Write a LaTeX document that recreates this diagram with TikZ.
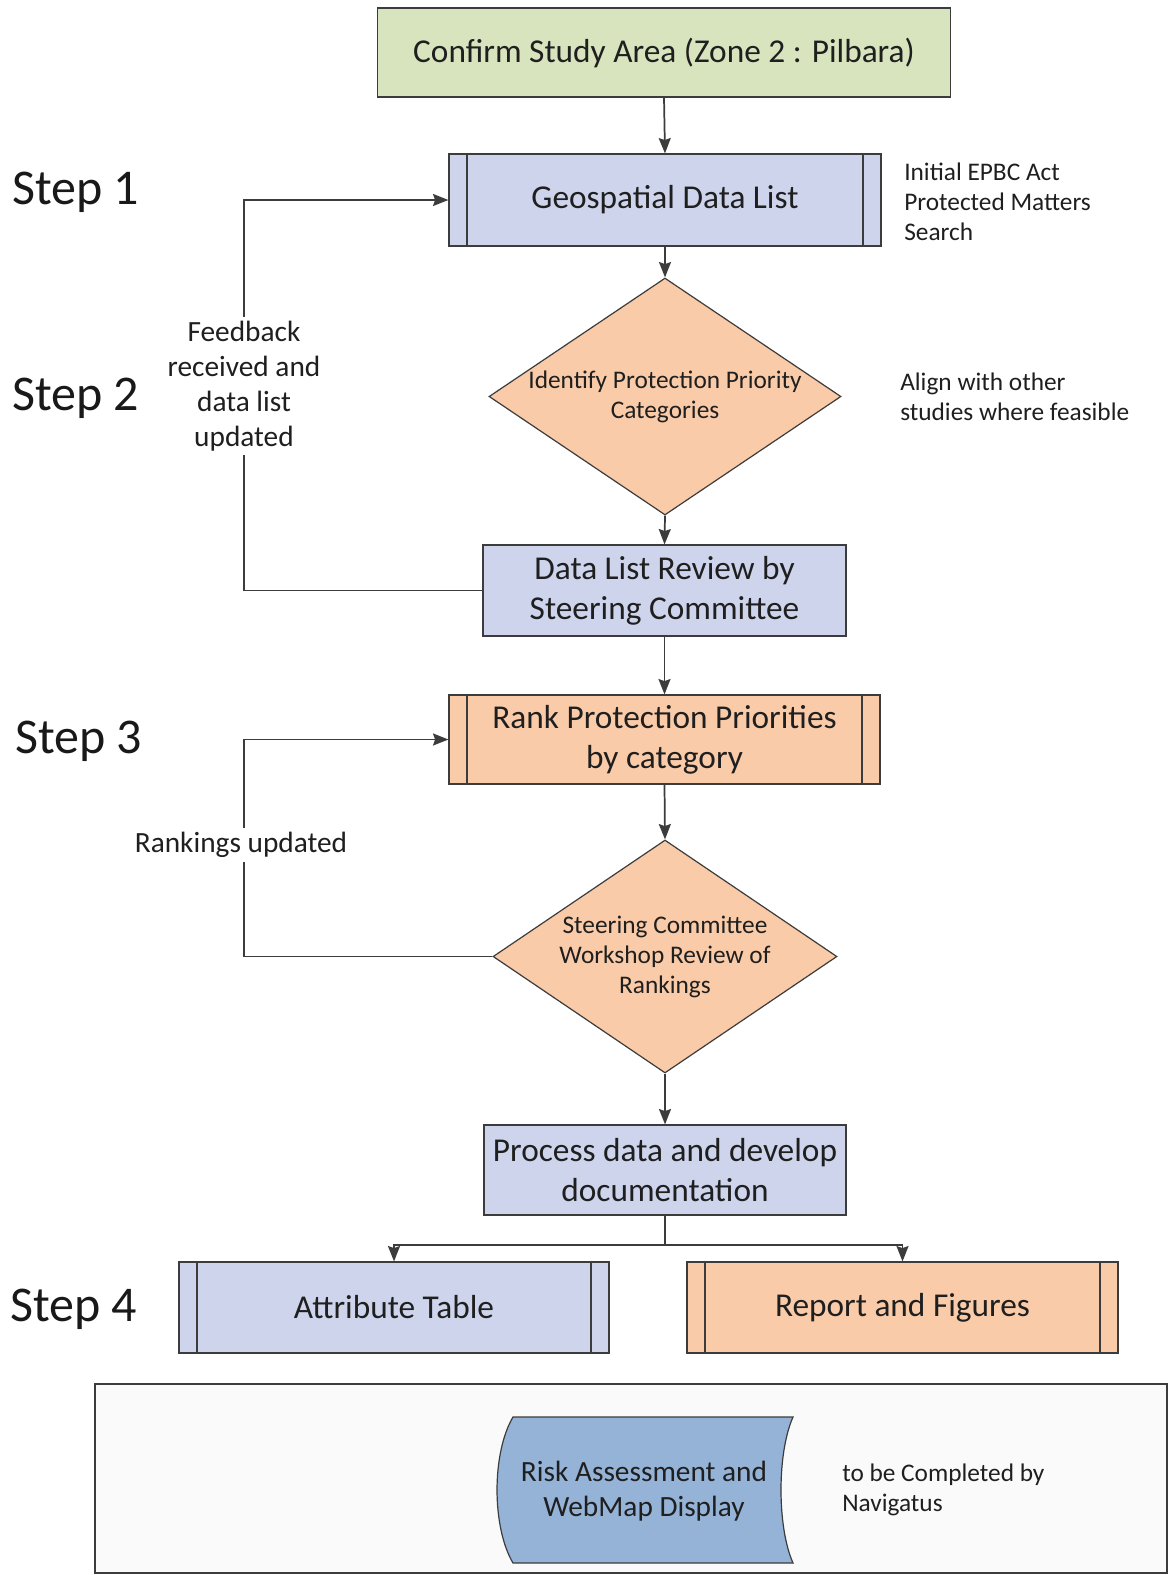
\documentclass[tikz,border=0pt]{standalone}
\usepackage{fontspec}
\setmainfont{Carlito}
\usetikzlibrary{shapes.geometric,arrows.meta}
\definecolor{lineC}{HTML}{3C3C3C}
\definecolor{greenF}{HTML}{D7E4BD}
\definecolor{blueF}{HTML}{CDD4EC}
\definecolor{orangeF}{HTML}{FACBA8}
\definecolor{riskF}{HTML}{95B3D7}
\definecolor{zoneF}{HTML}{FAFAFA}
\begin{document}
\begin{tikzpicture}[x=0.75pt,y=-0.75pt,
  box/.style={draw=lineC,line width=0.9pt,rectangle,align=center,inner sep=0pt,font=\fontsize{25}{30}\selectfont,text=black!88},
  subproc/.style={box,path picture={\draw[lineC,line width=0.9pt]
      ([xshift=13.5pt]path picture bounding box.north west) -- ([xshift=13.5pt]path picture bounding box.south west)
      ([xshift=-13.5pt]path picture bounding box.north east) -- ([xshift=-13.5pt]path picture bounding box.south east);}},
  dec/.style={draw=lineC,line width=0.9pt,diamond,fill=orangeF,inner sep=0pt},
  dtext/.style={align=center,font=\fontsize{19}{22.5}\selectfont,text=black!88,inner sep=0pt},
  steplbl/.style={anchor=west,font=\fontsize{37.5}{40}\selectfont,inner sep=0pt,text=black!90},
  note/.style={anchor=west,align=left,font=\fontsize{19}{22.5}\selectfont,inner sep=0pt,text=black!88},
  fb/.style={align=center,font=\fontsize{22}{26.25}\selectfont,fill=white,inner sep=3pt,text=black!88},
  conn/.style={draw=lineC,line width=1.3pt,-{Stealth[length=11.5pt,width=9pt,inset=1.5pt]}},
]
\useasboundingbox[fill=white] (0,0) rectangle (1172,1575);

% main flow
\node[box,fill=greenF,minimum width=429.75pt,minimum height=66.75pt] (confirm) at (664,52.5) {Confirm Study Area (Zone 2 : Pilbara)};
\node[subproc,fill=blueF,minimum width=324pt,minimum height=69pt] (geo) at (665,200) {Geospatial Data List};
\node[dec,minimum width=264pt,minimum height=177.75pt] (ident) at (665,396.5) {};
\node[dtext] (identtxt) at (ident.center) {Identify Protection Priority\\Categories};
\node[box,fill=blueF,minimum width=272.25pt,minimum height=68.25pt] (review) at (664.5,590.5) {Data List Review by\\Steering Committee};
\node[subproc,fill=orangeF,minimum width=323.25pt,minimum height=66.75pt] (rank) at (664.5,739.5) {Rank Protection Priorities\\by category};
\node[dec,minimum width=258pt,minimum height=174.75pt] (work) at (665,956.5) {};
\node[dtext] (worktxt) at (work.center) {Steering Committee\\Workshop Review of\\Rankings};
\node[box,fill=blueF,minimum width=271.5pt,minimum height=67.5pt] (proc) at (665,1170) {Process data and develop\\documentation};
\node[subproc,fill=blueF,minimum width=322.5pt,minimum height=68.25pt] (attr) at (394,1307.5) {Attribute Table};
\node[subproc,fill=orangeF,minimum width=323.25pt,minimum height=68.25pt] (report) at (902.5,1307.5) {Report and Figures};

% step labels
\node[steplbl] (s1) at (12,192) {Step 1};
\node[steplbl] (s2) at (12,398) {Step 2};
\node[steplbl] (s3) at (15,741) {Step 3};
\node[steplbl] (s4) at (10,1309) {Step 4};

% side notes
\node[note] (epbc) at (904,202) {Initial EPBC Act\\Protected Matters\\Search};
\node[note] (alignn) at (900,397) {Align with other\\studies where feasible};

% connectors
\draw[conn] (confirm.south) -- (geo.north);
\draw[conn] (geo.south) -- (ident.north);
\draw[conn] (ident.south) -- (review.north);
\draw[conn] (review.south) -- (rank.north);
\draw[conn] (rank.south) -- (work.north);
\draw[conn] (work.south) -- (proc.north);
\coordinate (br) at (665,1245);
\draw[conn] (proc.south) -- (br) -| (attr.north);
\draw[conn] (proc.south) -- (br) -| (report.north);

% feedback loops
\coordinate (loopx) at (244,0);
\draw[conn] (review.west) -- (review.west -| loopx) |- (geo.west);
\node[fb] (fbtxt) at (244,386) {Feedback\\received and\\data list\\updated};
\draw[conn] (work.west) -- (work.west -| loopx) |- (rank.west);
\node[fb] (rktxt) at (241,845) {Rankings updated};

% bottom zone
\node[draw=lineC,line width=0.9pt,fill=zoneF,minimum width=804pt,minimum height=141.75pt,inner sep=0pt] (zone) at (631,1478.5) {};
\draw[draw=lineC,line width=0.9pt,fill=riskF] (513,1417) -- (793,1417)
  .. controls (777,1453) and (777,1527) .. (793,1563) -- (513,1563)
  .. controls (491.7,1527) and (491.7,1453) .. (513,1417) -- cycle;
\node[align=center,font=\fontsize{22}{26.25}\selectfont,text=black!88,inner sep=0pt] (risk) at (644,1491) {Risk Assessment and\\WebMap Display};
\node[note] (navig) at (842,1490) {to be Completed by\\Navigatus};
\end{tikzpicture}
\end{document}
